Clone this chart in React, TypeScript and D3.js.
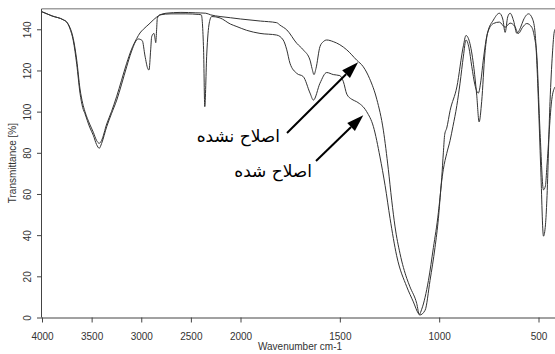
import { useEffect, useRef } from "react";
import * as d3 from "d3";

// x ticks (wavenumber) and y ticks (transmittance)
const xTicks = [4000, 3500, 3000, 2500, 2000, 1500, 1000, 500];
const yTicks = [0, 20, 40, 60, 80, 100, 120, 140];

// unmodified sample  [wavenumber, T%]
const unmodified: [number, number][] = [
  [4000, 148.5], [3900, 146.5], [3785, 144.6], [3751, 143.5], [3720, 141], [3685, 135.5],
  [3650, 125], [3617, 111], [3590, 104], [3567, 100], [3520, 94], [3483, 90], [3450, 86],
  [3423, 84.6], [3400, 86], [3348, 94], [3300, 100], [3247, 107.5], [3200, 115], [3147, 123.5],
  [3100, 130], [3046, 135.5], [3013, 138.2], [2979, 140], [2922, 142.5], [2879, 144.5],
  [2811, 147], [2750, 147.8], [2600, 148.2], [2450, 148], [2350, 147.8], [2300, 147],
  [2206, 146.2], [2100, 145.6], [2000, 145], [1900, 144], [1818, 143.2], [1801, 142],
  [1767, 139.7], [1717, 133.2], [1684, 130], [1650, 125], [1640, 121], [1630, 118],
  [1620, 121], [1600, 131.6], [1583, 134], [1566, 134.8], [1533, 134], [1500, 132.5],
  [1465, 130], [1415, 125], [1382, 121.8], [1350, 116], [1314, 106], [1281, 91], [1256, 72],
  [1239, 57], [1222, 44], [1197, 31], [1163, 19], [1147, 14.9], [1113, 6.8], [1100, 1.5],
  [1088, 4], [1054, 18], [1029, 34], [1004, 51], [987, 68], [979, 80], [972, 89], [962, 92],
  [945, 100.5], [911, 112], [878, 132], [865, 137], [845, 133], [825, 121], [811, 108],
  [799, 95], [786, 105], [770, 128], [757, 138], [727, 144.5], [697, 147.8], [680, 145],
  [668, 138.5], [655, 146], [643, 147.8], [625, 144], [609, 138], [590, 141], [576, 144.5],
  [550, 147.5], [530, 145], [517, 138], [509, 125], [501, 106], [489, 73], [475, 39.5],
  [465, 45], [458, 57], [442, 105], [430, 128], [422, 138], [417, 140],
];

// modified sample  [wavenumber, T%]
const modified: [number, number][] = [
  [4000, 148.5], [3900, 146.5], [3785, 144.6], [3751, 143.5], [3720, 140.5], [3685, 134.5],
  [3650, 123], [3617, 109], [3590, 102], [3567, 99], [3520, 92.5], [3483, 88.5], [3450, 84],
  [3423, 82.2], [3400, 84.5], [3348, 92.7], [3300, 99], [3247, 105.6], [3200, 113],
  [3147, 121.8], [3100, 129], [3046, 134.8], [3030, 135.3], [2990, 134.5], [2962, 127],
  [2935, 121], [2922, 120.2], [2905, 130], [2895, 136.4], [2872, 138], [2860, 135],
  [2854, 133.5], [2845, 140], [2838, 145.4], [2811, 147], [2700, 147.5], [2550, 147.5],
  [2420, 147.2], [2395, 147], [2372, 130], [2360, 102.4], [2340, 128], [2315, 143],
  [2290, 146.2], [2206, 145.5], [2100, 142.5], [2036, 141.3], [1969, 139.5], [1902, 138],
  [1818, 137.2], [1785, 134.8], [1767, 130], [1751, 123.5], [1717, 118.6], [1684, 117],
  [1650, 109], [1633, 105.6], [1600, 113.8], [1566, 119], [1533, 118], [1500, 117.5],
  [1482, 114.5], [1465, 108.5], [1440, 106], [1415, 104.8], [1365, 100], [1331, 92.7],
  [1298, 78], [1272, 64], [1247, 48], [1214, 30], [1163, 14.9], [1130, 7.6], [1105, 2],
  [1098, 1.2], [1071, 3.5], [1046, 18], [1021, 34], [1004, 48], [990, 64], [979, 72],
  [962, 79.7], [945, 86], [931, 92.7], [911, 103], [895, 113.8], [878, 127], [865, 134.8],
  [850, 131], [836, 122], [820, 113], [803, 109], [790, 115], [778, 125], [757, 138],
  [727, 142.8], [697, 143.5], [668, 141], [643, 143], [620, 141.5], [601, 138], [580, 141],
  [559, 142.8], [534, 141], [520, 136], [509, 128], [492, 89.5], [475, 62], [465, 64],
  [458, 73], [433, 106], [417, 112],
];

// annotations: label, label anchor (right end), arrow start, arrow tip (data coords)
const labels = ["اصلاح نشده", "اصلاح شده"];
const labelPos: [number, number][] = [[1801, 85.2], [1640, 68.2]];
const arrowFrom: [number, number][] = [[1766, 89.6], [1620, 76]];
const arrowTo: [number, number][] = [[1408, 124], [1382, 98.3]];

const App = () => {
  const svgRef = useRef<SVGSVGElement>(null);

  useEffect(() => {
    document.body.style.margin = "0";
    if (!svgRef.current) return;
    const svg = d3.select(svgRef.current);
    svg.selectAll("*").remove();

    const width = 555;
    const height = 354;
    const left = 42;
    const right = 555;
    const top = 8.7;
    const bottom = 317.5;

    // split axis: 4000-2000 compressed, 2000-400 expanded x2
    const x = d3.scaleLinear().domain([4000, 2000, 417]).range([left, 240.5, right]);
    const y = d3.scaleLinear().domain([0, 150]).range([bottom, top]);

    svg.attr("width", width).attr("height", height);

    // top frame line
    svg.append("line")
      .attr("x1", left).attr("x2", right)
      .attr("y1", top).attr("y2", top)
      .attr("stroke", "#a0a0a0").attr("stroke-width", 1.5);

    // x axis
    const xAxis = svg.append("g").attr("transform", `translate(0,${bottom})`);
    xAxis.call(d3.axisBottom(x).tickValues(xTicks).tickSize(5).tickSizeOuter(0).tickFormat(d3.format("d")));
    xAxis.select(".domain").attr("stroke", "#444").attr("d", `M${left},0.5H${right}`);
    xAxis.selectAll(".tick line").attr("stroke", "#444");
    xAxis.selectAll(".tick text")
      .attr("y", 15)
      .attr("fill", "#333")
      .style("font-family", "'Liberation Sans', Arial, sans-serif")
      .style("font-size", "10px");

    // y axis
    const yAxis = svg.append("g").attr("transform", `translate(${left},0)`);
    yAxis.call(d3.axisLeft(y).tickValues(yTicks).tickSize(5).tickSizeOuter(0));
    yAxis.select(".domain").attr("stroke", "#444").attr("d", `M-0.5,${bottom}V${top}`);
    yAxis.selectAll(".tick line").attr("stroke", "#444");
    yAxis.selectAll(".tick text")
      .attr("x", 0).attr("y", 0).attr("dy", 0)
      .attr("transform", "translate(-11,0) rotate(-90)")
      .attr("text-anchor", "middle")
      .attr("fill", "#333")
      .style("font-family", "'Liberation Sans', Arial, sans-serif")
      .style("font-size", "10px");

    // axis titles
    svg.append("text")
      .attr("x", 300).attr("y", 350)
      .attr("text-anchor", "middle")
      .attr("fill", "#333")
      .style("font-family", "'Liberation Sans', Arial, sans-serif")
      .style("font-size", "10px")
      .text("Wavenumber cm-1");

    svg.append("text")
      .attr("transform", `translate(16,${(top + bottom) / 2}) rotate(-90)`)
      .attr("text-anchor", "middle")
      .attr("fill", "#333")
      .style("font-family", "'Liberation Sans', Arial, sans-serif")
      .style("font-size", "10px")
      .text("Transmittance [%]");

    // spectra
    const line = d3.line<[number, number]>()
      .x((d) => x(d[0]))
      .y((d) => y(d[1]))
      .curve(d3.curveMonotoneX);

    [unmodified, modified].forEach((s) => {
      svg.append("path")
        .attr("d", line(s))
        .attr("fill", "none")
        .attr("stroke", "#333")
        .attr("stroke-width", 1);
    });

    // arrows + persian labels
    labels.forEach((t, i) => {
      const x0 = x(arrowFrom[i][0]);
      const y0 = y(arrowFrom[i][1]);
      const x1 = x(arrowTo[i][0]);
      const y1 = y(arrowTo[i][1]);
      const ang = Math.atan2(y1 - y0, x1 - x0);
      const headLen = 17;
      const headW = 5.5;
      const bx = x1 - headLen * Math.cos(ang);
      const by = y1 - headLen * Math.sin(ang);
      const px = -Math.sin(ang) * headW;
      const py = Math.cos(ang) * headW;

      svg.append("line")
        .attr("x1", x0).attr("y1", y0)
        .attr("x2", bx).attr("y2", by)
        .attr("stroke", "#000").attr("stroke-width", 2);

      svg.append("path")
        .attr("d", `M${x1},${y1}L${bx + px},${by + py}L${bx - px},${by - py}Z`)
        .attr("fill", "#000");

      svg.append("text")
        .attr("x", x(labelPos[i][0]))
        .attr("y", y(labelPos[i][1]))
        .attr("text-anchor", "end")
        .attr("fill", "#000")
        .style("font-family", "'DejaVu Sans', sans-serif")
        .style("font-size", "17px")
        .text(t);
    });
  }, []);

  return (
    <div style={{ position: "absolute", left: 0, top: 0, background: "#fff" }}>
      <svg ref={svgRef} style={{ display: "block" }}></svg>
    </div>
  );
};

export default App;
